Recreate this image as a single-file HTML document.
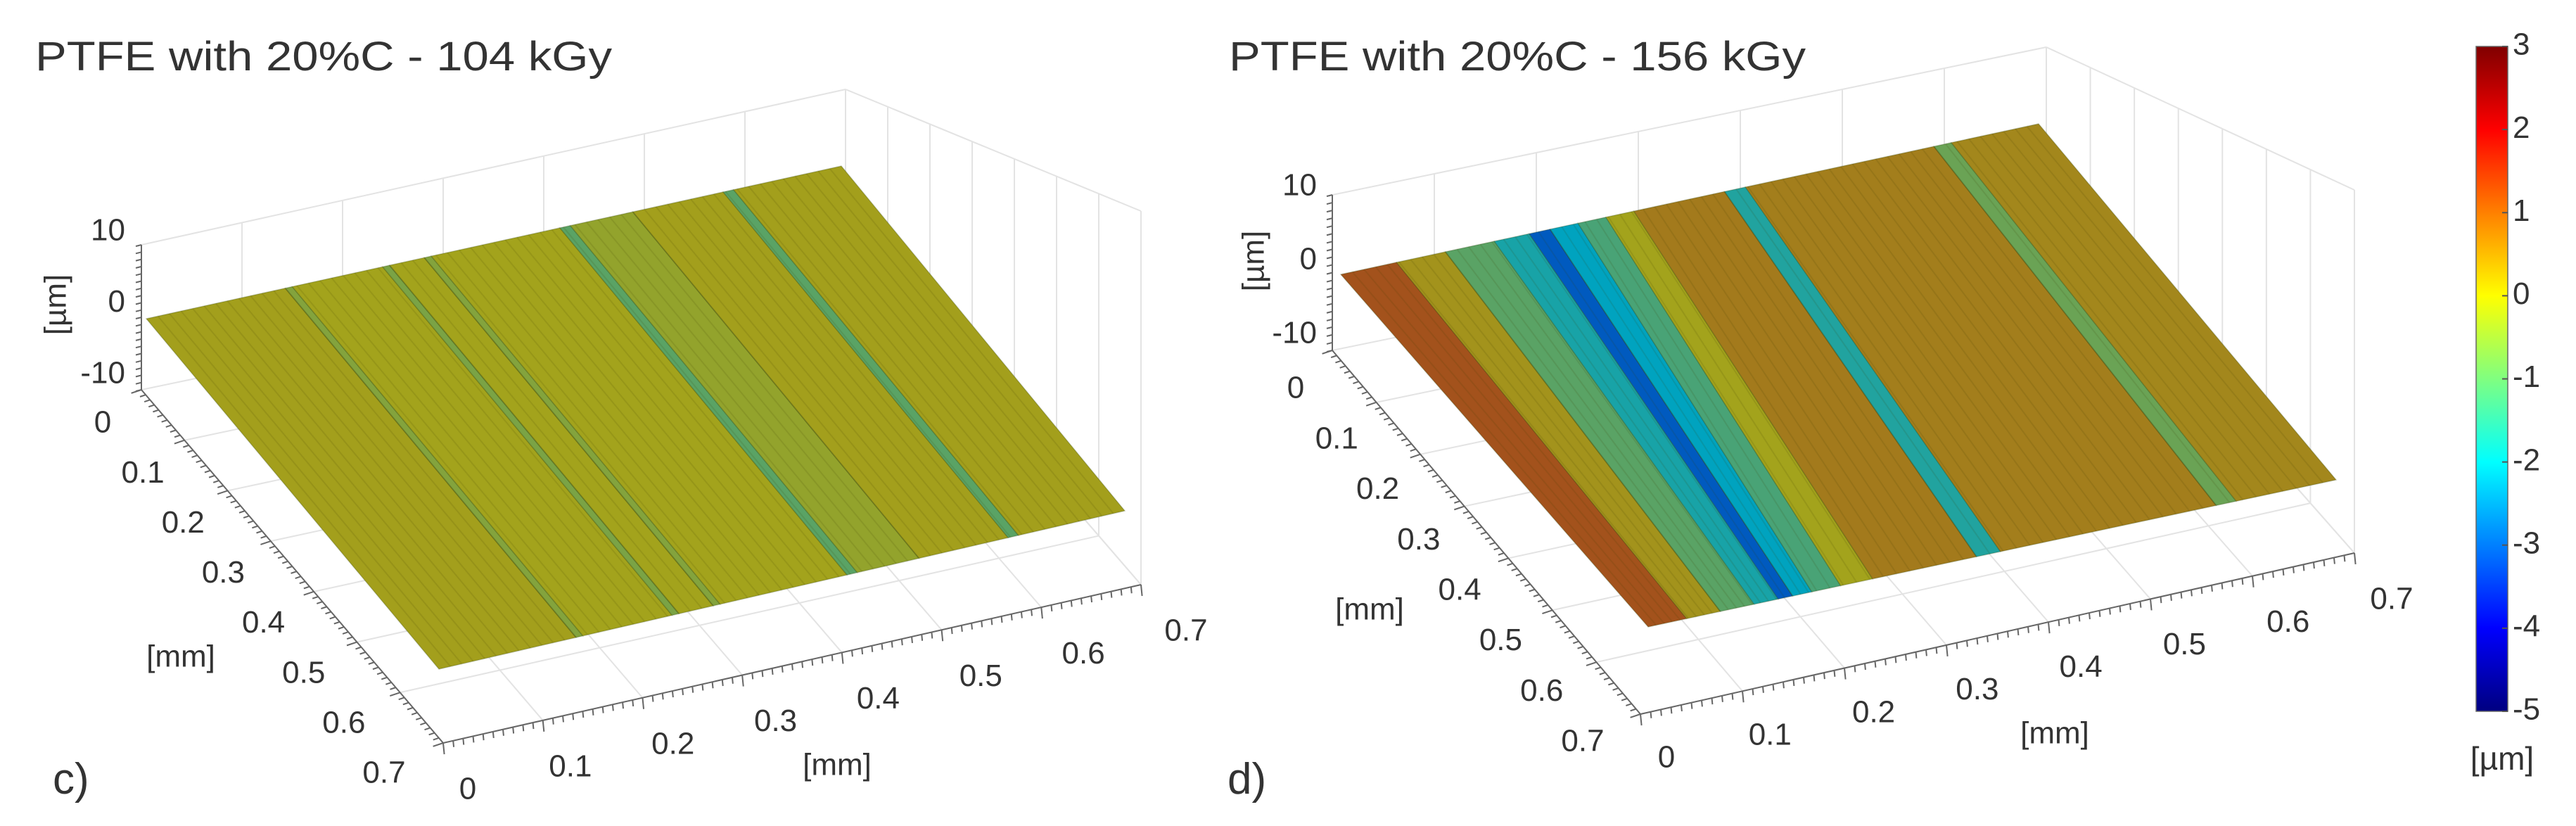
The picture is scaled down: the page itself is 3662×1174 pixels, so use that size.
<!DOCTYPE html>
<html><head><meta charset="utf-8">
<style>
html,body{margin:0;padding:0;background:#fff;}
svg{display:block;font-family:"Liberation Sans",Arial,sans-serif;}
</style></head>
<body>
<svg id="fig" width="3662" height="1174" viewBox="0 0 3662 1174">
<rect x="0" y="0" width="3662" height="1174" fill="#fff"/>
<g id="left"></g>
<g id="right"></g>
<g id="cbar"></g>
</svg>
<script>
// ---- data ----
const axisTicks = [0, 0.1, 0.2, 0.3, 0.4, 0.5, 0.6, 0.7];
const zTicks = [10, 0, -10];
const colorbarTicks = [3, 2, 1, 0, -1, -2, -3, -4, -5];
// band edges along x (fraction of 0.7 mm) for each panel
const leftBandU = [0, 0.2, 0.21, 0.34, 0.35, 0.4, 0.41, 0.595, 0.61, 0.7, 0.83, 0.845, 1];
const leftBandZ = [0.05, -0.4, 0.0, -0.5, 0.0, -0.4, 0.0, -0.9, -0.2, 0.05, -0.9, 0.05];
const rightBandU = [0, 0.08, 0.15, 0.22, 0.27, 0.30, 0.34, 0.38, 0.42, 0.55, 0.58, 0.85, 0.875, 1];
const rightBandZ = [1.0, 0.2, -0.9, -1.7, -2.9, -2.0, -1.1, 0.0, 0.5, -1.6, 0.45, -0.7, 0.35];

const NS = "http://www.w3.org/2000/svg";
function mk(parent, tag, attrs, text) {
  const e = document.createElementNS(NS, tag);
  for (const k in attrs) e.setAttribute(k, attrs[k]);
  if (text !== undefined) e.textContent = text;
  parent.appendChild(e);
  return e;
}
function jet(z, shade, blue) {
  const t = (z + 5) / 8;
  const c = v => Math.max(0, Math.min(1, v));
  const r = c(1.5 - Math.abs(4 * t - 3)), g = c(1.5 - Math.abs(4 * t - 2)), b = c(1.5 - Math.abs(4 * t - 1));
  const s = shade || 1, add = blue || 0;
  return "rgb(" + Math.round(r * 255 * s) + "," + Math.round(g * 255 * s) + "," + Math.round(Math.min(255, b * 255 * s + add)) + ")";
}
function lerp(a, b, t) { return [a[0] + (b[0] - a[0]) * t, a[1] + (b[1] - a[1]) * t]; }

function panel(g, G, bandU, bandZ, frontMap, title, letter) {
  let t = mk(g, "text", {x: G.titleX, y: 100, "font-size": 58, fill: "#333", textLength: 820, lengthAdjust: "spacingAndGlyphs"}, title);
  
  
  t = mk(g, "text", {x: G.letterX, y: 1128, "font-size": 62, fill: "#333"}, letter);
  
  
  const box = mk(g, "g", {stroke: "#e3e3e3", "stroke-width": 2, fill: "none"});
  
  
  mk(box, "line", {x1: G.zTop[0], y1: G.zTop[1], x2: G.backTop[0], y2: G.backTop[1]});
  mk(box, "line", {x1: G.backTop[0], y1: G.backTop[1], x2: G.rightTop[0], y2: G.rightTop[1]});
  mk(box, "line", {x1: G.rightTop[0], y1: G.rightTop[1], x2: G.rightBot[0], y2: G.rightBot[1]});
  mk(box, "line", {x1: G.zBot[0], y1: G.zBot[1], x2: G.backBot[0], y2: G.backBot[1]});
  mk(box, "line", {x1: G.backBot[0], y1: G.backBot[1], x2: G.rightBot[0], y2: G.rightBot[1]});
  mk(box, "line", {x1: G.backTop[0], y1: G.backTop[1], x2: G.backBot[0], y2: G.backBot[1]});
  for (let i = 1; i < axisTicks.length; i++) {
    const f = axisTicks[i] / 0.7;
    const a = lerp(G.zTop, G.backTop, f), b = lerp(G.zBot, G.backBot, f);
    mk(box, "line", {x1: a[0], y1: a[1], x2: b[0], y2: b[1]});
    const c = lerp(G.frontBot, G.rightBot, f), d = lerp(G.zBot, G.backBot, f);
    mk(box, "line", {x1: c[0], y1: c[1], x2: d[0], y2: d[1]});
    const e = lerp(G.zBot, G.frontBot, f), h = lerp(G.backBot, G.rightBot, f);
    mk(box, "line", {x1: e[0], y1: e[1], x2: h[0], y2: h[1]});
    const k = lerp(G.backTop, G.rightTop, f), l = lerp(G.backBot, G.rightBot, f);
    mk(box, "line", {x1: k[0], y1: k[1], x2: l[0], y2: l[1]});
  }
  const ax = mk(g, "g", {stroke: "#666", "stroke-width": 2, fill: "none"});
  
  
  mk(ax, "line", {x1: G.zTop[0], y1: G.zTop[1], x2: G.zBot[0], y2: G.zBot[1]});
  mk(ax, "line", {x1: G.zBot[0], y1: G.zBot[1], x2: G.frontBot[0], y2: G.frontBot[1]});
  mk(ax, "line", {x1: G.frontBot[0], y1: G.frontBot[1], x2: G.rightBot[0], y2: G.rightBot[1]});
  for (let i = 0; i <= 70; i++) {
    const f = i / 70, L = (i % 10 === 0) ? 16 : 9;
    const p = lerp(G.zBot, G.frontBot, f);
    mk(ax, "line", {x1: p[0], y1: p[1], x2: p[0] - L * 0.9, y2: p[1] + L * 0.3});
    const q = lerp(G.frontBot, G.rightBot, f);
    mk(ax, "line", {x1: q[0], y1: q[1], x2: q[0] + L * 0.1, y2: q[1] + L});
  }
  for (let i = 0; i <= 20; i++) {
    const p = lerp(G.zTop, G.zBot, i / 20);
    mk(ax, "line", {x1: p[0], y1: p[1], x2: p[0] - 8, y2: p[1] + 2});
  }
  const surf = mk(g, "g", {});
  
  
  const P = (u, v) => {
    const top = lerp(G.sL, G.sB, u), front = lerp(G.sF, G.sR, frontMap(u));
    return lerp(top, front, v);
  };
  for (let i = 0; i < bandZ.length; i++) {
    const u0 = bandU[i], u1 = bandU[i + 1];
    const pts = [P(u0, 0), P(u1, 0), P(u1, 1), P(u0, 1)].map(p => p.join(",")).join(" ");
    const b = mk(surf, "polygon", {points: pts, fill: jet(bandZ[i], 0.64, 28), stroke: "rgba(40,60,0,0.25)", "stroke-width": 1.5});
    
    
  }
  for (let i = 1; i < 60; i++) {
    const u = i / 60, a = P(u, 0), b = P(u, 1);
    mk(surf, "line", {x1: a[0], y1: a[1], x2: b[0], y2: b[1], stroke: "rgba(60,60,0,0.12)", "stroke-width": 2});
  }
  const lab = mk(g, "g", {"font-size": 44, fill: "#333", "text-anchor": "middle", "dominant-baseline": "middle"});
  
  
  axisTicks.forEach(v => {
    const f = v / 0.7;
    const p = lerp(G.yl0, G.yl7, f);
    let e = mk(lab, "text", {x: p[0], y: p[1]}, String(v));
    
    
    const q = lerp(G.xl0, G.xl7, f);
    e = mk(lab, "text", {x: q[0], y: q[1]}, String(v));
    
    
  });
  zTicks.forEach(v => {
    const f = (10 - v) / 20;
    const y = G.zl10 + (G.zlm10 - G.zl10) * f;
    const e = mk(lab, "text", {x: G.zlx, y: y, "text-anchor": "end"}, String(v));
    
    
  });
  let e = mk(lab, "text", {x: G.yTitle[0], y: G.yTitle[1]}, "[mm]");
  
  
  e = mk(lab, "text", {x: G.xTitle[0], y: G.xTitle[1]}, "[mm]");
  
  
  e = mk(lab, "text", {x: G.zTitle[0], y: G.zTitle[1], transform: "rotate(-90 " + G.zTitle[0] + " " + G.zTitle[1] + ")"}, "[µm]");
  
  
}

panel(document.getElementById("left"), {
  titleX: 50, letterX: 75,
  zTop: [201, 348], zBot: [201, 554], backTop: [1202, 127], backBot: [1202, 345],
  rightTop: [1622, 300], rightBot: [1622, 831], frontBot: [630, 1056],
  sL: [208, 453], sB: [1196, 236], sF: [624, 951], sR: [1599, 726],
  yl0: [146, 603], yl7: [546, 1101], xl0: [665, 1124], xl7: [1686, 899],
  zlx: 178, zl10: 330, zlm10: 533,
  yTitle: [257, 936], xTitle: [1190, 1090], zTitle: [82, 433]
}, leftBandU, leftBandZ, u => u, "PTFE with 20%C - 104 kGy", "c)");

panel(document.getElementById("right"), {
  titleX: 1747, letterX: 1745,
  zTop: [1894, 277], zBot: [1894, 498], backTop: [2909, 67], backBot: [2909, 290],
  rightTop: [3347, 270], rightBot: [3347, 786], frontBot: [2332, 1015],
  sL: [1906, 390], sB: [2898, 176], sF: [2343, 891], sR: [3321, 682],
  yl0: [1842, 554], yl7: [2250, 1056], xl0: [2369, 1079], xl7: [3400, 854],
  zlx: 1872, zl10: 266, zlm10: 476,
  yTitle: [1947, 869], xTitle: [2921, 1045], zTitle: [1785, 371]
}, rightBandU, rightBandZ, u => (u <= 0.35 ? 0.7 * u : 0.245 + (u - 0.35) * 1.1615), "PTFE with 20%C - 156 kGy", "d)");

(function () {
  const g = document.getElementById("cbar");
  const x0 = 3520, w = 45, y0 = 66, y1 = 1011;
  const zmax = colorbarTicks[0], zmin = colorbarTicks[colorbarTicks.length - 1];
  const yOf = z => y0 + (zmax - z) / (zmax - zmin) * (y1 - y0);
  const defs = mk(g, "defs", {});
  const grad = mk(defs, "linearGradient", {id: "jetg", x1: 0, y1: 0, x2: 0, y2: 1});
  for (let i = 0; i <= 32; i++) {
    const f = i / 32;
    mk(grad, "stop", {offset: f, "stop-color": jet(zmax - f * (zmax - zmin), 1)});
  }
  const r = mk(g, "rect", {x: x0, y: y0, width: w, height: y1 - y0, fill: "url(#jetg)", stroke: "#666", "stroke-width": 1.5});
  
  
  colorbarTicks.forEach(v => {
    const y = yOf(v);
    mk(g, "line", {x1: x0 + w - 8, y1: y, x2: x0 + w, y2: y, stroke: "#555", "stroke-width": 2});
    const e = mk(g, "text", {x: 3572, y: y, "font-size": 44, fill: "#333", "dominant-baseline": "middle"}, String(v));
    
    
  });
  const e = mk(g, "text", {x: 3557, y: 1082, "font-size": 46, fill: "#333", "text-anchor": "middle", "dominant-baseline": "middle"}, "[µm]");
  
  
})();
</script>
</body></html>
